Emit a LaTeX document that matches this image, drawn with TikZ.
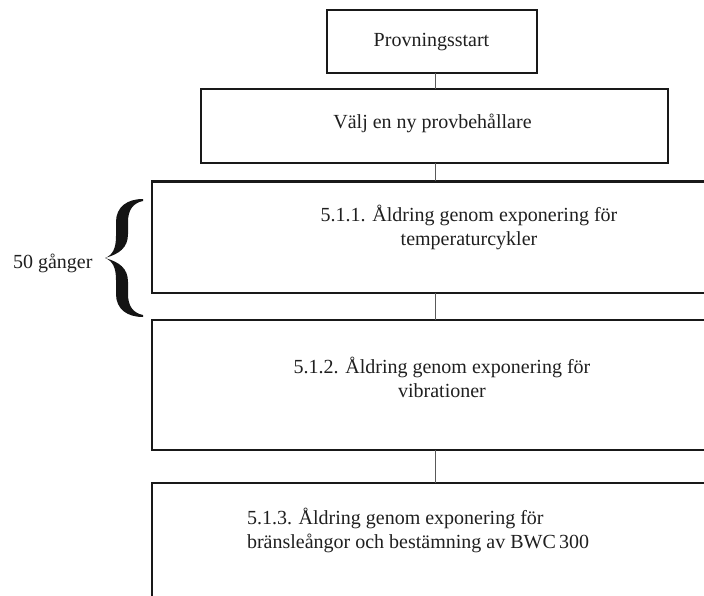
\documentclass[tikz,border=0pt]{standalone}
\usepackage{fontspec}
\setmainfont{Liberation Serif}
\begin{document}
\begin{tikzpicture}[x=1bp,y=-1bp,
  stagebox/.style={draw=black!90,line width=2.5bp,fill=none,inner sep=0pt,outer sep=0pt},
  link/.style={draw=black!65,line width=0.9bp},
  lbl/.style={inner sep=0pt,outer sep=0pt,text=black!88,font=\fontsize{20bp}{24bp}\selectfont}]
\useasboundingbox (0,0) rectangle (704,596);
\clip (0,0) rectangle (704,596);

% process stages
\node[stagebox,minimum width=210bp,minimum height=63bp]  (b1) at (432,41.5) {};
\node[stagebox,minimum width=467bp,minimum height=74bp]  (b2) at (434.5,126) {};
\node[stagebox,minimum width=568bp,minimum height=111.5bp] (b3) at (436,237.25) {};
\node[stagebox,minimum width=568bp,minimum height=130bp] (b4) at (436,385) {};
\node[stagebox,minimum width=568bp,minimum height=157bp] (b5) at (436,561.5) {};

% vertical links between stages
\coordinate (cx) at (435,0);
\draw[link] (b1.south -| cx) -- (b2.north -| cx);
\draw[link] (b2.south -| cx) -- (b3.north -| cx);
\draw[link] (b3.south -| cx) -- (b4.north -| cx);
\draw[link] (b4.south -| cx) -- (b5.north -| cx);

% stage texts
\node[lbl,anchor=base] (t1) at (431.5,47) {Provningsstart};
\node[lbl,anchor=base] (t2) at (432.5,129) {Välj en ny provbehållare};
\node[lbl,anchor=base] (t3a) at (469,221) {5.1.1. Åldring genom exponering för};
\node[lbl,anchor=base] (t3b) at (469,245) {temperaturcykler};
\node[lbl,anchor=base] (t4a) at (442,373) {5.1.2. Åldring genom exponering för};
\node[lbl,anchor=base] (t4b) at (442,397) {vibrationer};
\node[lbl,anchor=base west] (t5a) at (247,524) {5.1.3. Åldring genom exponering för};
\node[lbl,anchor=base west] (t5b) at (247,548) {bränsleångor och bestämning av BWC\,300};

% repetition brace
\node[lbl,anchor=base west] (rep) at (13,268) {50 gånger};
\fill[black!92]
  (143,199) .. controls (127,199) and (116,207) .. (116,222)
  -- (116,236) .. controls (116,248) and (113,255) .. (105,258)
  .. controls (113,261) and (116,268) .. (116,280)
  -- (116,294) .. controls (116,309) and (127,317) .. (143,317)
  -- (143,315) .. controls (133,313) and (128,306) .. (128,294)
  -- (128,282) .. controls (128,268) and (119,262) .. (105,258)
  .. controls (119,254) and (128,248) .. (128,234)
  -- (128,222) .. controls (128,210) and (133,203) .. (143,201) -- cycle;
\end{tikzpicture}
\end{document}
